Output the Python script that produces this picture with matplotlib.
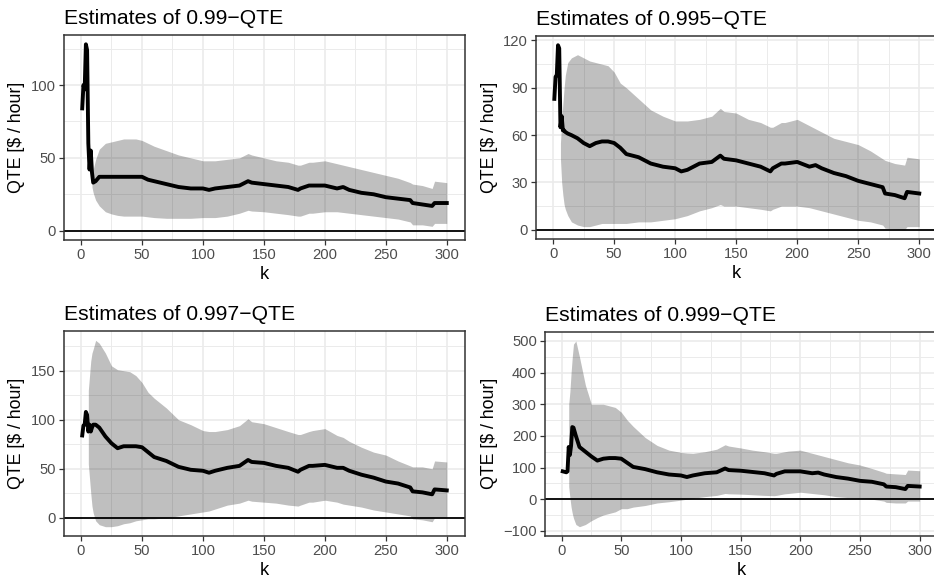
import numpy as np
import matplotlib
matplotlib.use('Agg')
import matplotlib.pyplot as plt
from matplotlib.ticker import MultipleLocator

plt.rcParams['font.family'] = ['Liberation Sans', 'DejaVu Sans']

nan = np.nan

k = [1, 2, 3, 4, 5, 6, 7, 8, 9, 10,
     12, 15, 20, 25, 30, 35, 40, 45, 50, 55,
     60, 70, 80, 90, 100, 105, 110, 120, 130, 137,
     140, 150, 160, 170, 178, 180, 187, 190, 200, 210,
     215, 220, 230, 240, 250, 260, 270, 272, 280, 288,
     290, 300]

# 0.99-QTE
est_990 = [84, 100, 97, 128, 124, 60, 42, 55, 40, 33,
           34, 37, 37, 37, 37, 37, 37, 37, 37, 35,
           34, 32, 30, 29, 29, 28, 29, 30, 31, 34,
           33, 32, 31, 30, 28, 29, 31, 31, 31, 29,
           30, 28, 26, 25, 23, 22, 21, 19, 18, 17,
           19, 19]
up_990 = [nan, nan, nan, nan, nan, nan, nan, nan, 38, 42,
          49, 56, 60, 61, 62, 63, 63, 63, 62, 60,
          58, 55, 52, 50, 48, 48, 48, 49, 50, 53,
          52, 50, 48, 47, 45, 45, 47, 47, 48, 46,
          45, 44, 42, 40, 38, 36, 33, 32, 31, 29,
          34, 33]
lo_990 = [nan, nan, nan, nan, nan, nan, nan, nan, 30, 26,
          21, 17, 13, 11.5, 10.5, 10, 10, 10, 10, 9.5,
          9, 8.5, 8.5, 8.5, 9, 9, 9, 10, 12, 14,
          13.5, 13, 12, 11, 10, 10, 12, 12, 13, 13,
          12.5, 12, 11, 10, 9, 8, 6, 4, 4, 3,
          5, 5]

# 0.995-QTE
est_995 = [83, 97, 98, 117, 115, 65, 72, 63, 63, 62,
           61, 60, 58, 55, 53, 55, 56, 56, 55, 52,
           48, 46, 42, 40, 39, 37, 38, 42, 43, 47,
           45, 44, 42, 40, 37, 39, 42, 42, 43, 40,
           41, 39, 36, 34, 31, 29, 27, 23, 22, 20,
           24, 23]
up_995 = [nan, nan, nan, nan, nan, 55, 68, 80, 90, 98,
          106, 109, 111, 109, 107, 106, 105, 104, 100, 93,
          90, 83, 76, 72, 69, 69, 69, 70, 72, 77,
          75, 74, 70, 68, 65, 65, 68, 68, 70, 66,
          64, 62, 58, 56, 54, 50, 45, 44, 42, 41,
          46, 45]
lo_995 = [nan, nan, nan, nan, nan, 45, 30, 22, 16, 13,
          9, 5, 3, 2, 2, 3, 4, 4, 4, 4,
          4, 5, 5, 6, 7, 8, 9, 12, 14, 16,
          15, 15, 14, 13, 12, 13, 15, 15, 15, 14,
          13, 12, 10, 8, 6, 5, 3, 1, 0.5, 0,
          2, 2]

# 0.997-QTE
est_997 = [84, 94, 95, 108, 105, 88, 95, 88, 92, 95,
           95, 92, 83, 76, 71, 73, 73, 73, 72, 67,
           62, 58, 52, 49, 48, 46, 48, 51, 53, 59,
           57, 56, 53, 51, 47, 49, 53, 53, 54, 51,
           51, 48, 44, 41, 37, 35, 31, 27, 26, 24,
           29, 28]
up_997 = [nan, nan, nan, nan, nan, 130, 145, 160, 168, 172,
          181, 178, 168, 155, 151, 150, 149, 145, 138, 128,
          122, 112, 100, 95, 89, 88, 88, 90, 94, 101,
          98, 96, 92, 88, 85, 85, 88, 89, 91, 84,
          82, 78, 72, 67, 64, 58, 53, 52, 52, 50,
          58, 57]
lo_997 = [nan, nan, nan, nan, nan, 55, 40, 25, 12, 5,
          -3, -7, -9, -9, -8, -6, -5, -3, -2, -1,
          -1, 0, 2, 4, 6, 7, 9, 13, 15, 18,
          17, 16, 15, 13, 12, 13, 16, 16, 18, 16,
          14, 13, 11, 8, 6, 4, 2, -1, -2, -4,
          0, 0]

# 0.999-QTE
est_999 = [88, 87, 86, 85, 88, 165, 140, 170, 228, 226,
           200, 165, 150, 135, 122, 128, 130, 130, 128, 115,
           102, 95, 85, 78, 75, 70, 75, 82, 85, 97,
           92, 90, 86, 82, 75, 80, 88, 88, 88, 82,
           84, 78, 70, 65, 58, 55, 47, 40, 38, 32,
           42, 40]
up_999 = [nan, nan, nan, nan, nan, 300, 340, 400, 450, 490,
          500, 450, 360, 300, 300, 300, 295, 290, 275, 250,
          230, 195, 170, 155, 148, 146, 145, 150, 158, 172,
          168, 162, 155, 150, 145, 145, 150, 152, 155, 145,
          140, 135, 125, 115, 108, 97, 85, 82, 80, 78,
          92, 90]
lo_999 = [nan, nan, nan, nan, nan, 40, 5, -25, -45, -60,
          -80, -87, -80, -68, -58, -50, -45, -40, -30, -30,
          -25, -20, -12, -8, -3, 0, 3, 8, 12, 18,
          17, 16, 14, 12, 11, 12, 17, 18, 22, 18,
          16, 14, 8, 5, 4, 0, -6, -10, -12, -12,
          -6, -6]

titles = ['Estimates of 0.99\u2212QTE', 'Estimates of 0.995\u2212QTE',
          'Estimates of 0.997\u2212QTE', 'Estimates of 0.999\u2212QTE']
y_steps = [50, 30, 50, 100]
panels = [(est_990, up_990, lo_990), (est_995, up_995, lo_995),
          (est_997, up_997, lo_997), (est_999, up_999, lo_999)]

W, H = 934, 581
# panel boxes in pixels: left, top, width, height
boxes = [(64, 35, 401, 205), (536.1, 36, 401.4, 203),
         (64, 331, 401, 205), (544.9, 331.7, 392.6, 204.3)]

fig = plt.figure(figsize=(W / 100, H / 100), dpi=100)

for (est, up, lo), title, step, (bl, bt, bw, bh) in zip(panels, titles, y_steps, boxes):
    ax = fig.add_axes([bl / W, 1 - (bt + bh) / H, bw / W, bh / H])
    ax.fill_between(k, lo, up, color='black', alpha=0.25, linewidth=0)
    ax.plot(k, est, color='black', linewidth=2.8, solid_joinstyle='round')
    ax.axhline(0, color='black', linewidth=1.3)

    vals = np.array(est + up + lo, dtype=float)
    ymin, ymax = min(np.nanmin(vals), 0), np.nanmax(vals)
    pad = 0.05 * (ymax - ymin)
    ax.set_ylim(ymin - pad, ymax + pad)
    ax.set_xlim(1 - 0.05 * 299, 300 + 0.05 * 299)

    ax.xaxis.set_major_locator(MultipleLocator(50))
    ax.xaxis.set_minor_locator(MultipleLocator(25))
    ax.yaxis.set_major_locator(MultipleLocator(step))
    ax.yaxis.set_minor_locator(MultipleLocator(step / 2))
    ax.grid(which='major', color='#EBEBEB', linewidth=1.2)
    ax.grid(which='minor', color='#EBEBEB', linewidth=0.7)
    ax.set_axisbelow(True)

    for s in ax.spines.values():
        s.set_color('#333333')
        s.set_linewidth(1.1)
    ax.tick_params(which='major', length=3.3, width=0.9, color='#333333',
                   labelsize=10.6, labelcolor='#4D4D4D', pad=2.5)
    ax.tick_params(which='minor', length=0)

    ax.set_title(title, loc='left', fontsize=15.2, pad=8)
    ax.set_xlabel('k', fontsize=13.2, labelpad=3)
    ax.set_ylabel(r'QTE [\$ / hour]', fontsize=12.8, labelpad=4)

fig.savefig('out.png', dpi=100)
